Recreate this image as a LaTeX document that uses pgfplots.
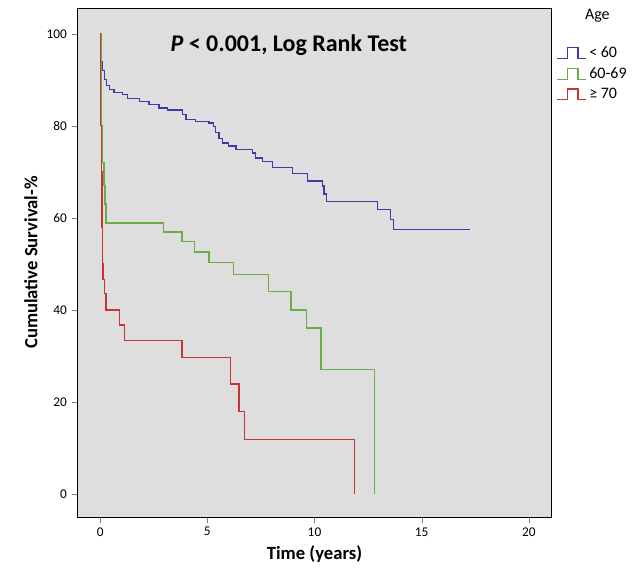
\documentclass[border=0pt]{standalone}
\usepackage{pgfplots}
\pgfplotsset{compat=1.18}
\usepackage{fontspec}
\setmainfont{Carlito}
\definecolor{ageblue}{HTML}{3A3AA8}
\definecolor{agegreen}{HTML}{6AAE4A}
\definecolor{agered}{HTML}{C83434}
\pgfplotsset{stepimg/.style={legend image code/.code={\draw[color=#1,line width=1pt] (0pt,-4pt) -- (8pt,-4pt) -- (8pt,4pt) -- (16pt,4pt) -- (16pt,-4pt) -- (22pt,-4pt);}}}
\begin{document}
\begin{tikzpicture}
\path[use as bounding box] (-58pt,-50pt) rectangle (417pt,388pt);
\begin{axis}[
  scale only axis, width=356pt, height=382pt,
  xmin=-1.07, xmax=21.07, ymin=-5, ymax=105.6,
  xtick={0,5,...,20}, ytick={0,20,...,100},
  axis background/.style={fill={rgb,255:red,222;green,222;blue,222}},
  tick align=outside, tick pos=left,
  /pgf/number format/assume math mode=true,
  ticklabel style={font=\fontsize{10}{12}\selectfont},
  xlabel={\textbf{Time (years)}}, ylabel={\textbf{Cumulative Survival-\%}},
  label style={font=\fontsize{14}{16}\selectfont},
  legend style={at={(1.0,0.935)}, anchor=north west, draw=none, fill=none, font=\fontsize{12}{14}\selectfont, row sep=2pt},
  legend cell align=left,
  clip=false,
]
\addplot[ageblue, const plot, line width=1pt, stepimg=ageblue] coordinates {(0,100)(0.02,97)(0.05,94)(0.1,92)(0.2,90)(0.3,88.8)(0.42,87.9)(0.65,87.3)(1.04,86.8)(1.27,85.9)(1.82,85.3)(2.28,84.6)(2.75,83.9)(3.14,83.4)(3.84,82.4)(4.0,81.4)(4.46,81.0)(5.08,80.6)(5.3,79.8)(5.39,78.5)(5.55,77.3)(5.7,76.3)(6.0,75.6)(6.33,74.8)(7.1,74.1)(7.26,73.0)(7.57,72.3)(8.03,70.9)(8.97,69.6)(9.67,68.0)(10.36,66.9)(10.45,65.2)(10.55,63.6)(12.93,61.8)(13.55,59.7)(13.7,57.5)(17.25,57.5)};
\addlegendentry{< 60}
\addplot[agegreen, const plot, line width=1pt, stepimg=agegreen] coordinates {(0,100)(0.03,88)(0.07,80)(0.12,72)(0.18,67)(0.22,63)(0.27,58.9)(2.94,56.9)(3.82,54.8)(4.4,52.6)(5.07,50.3)(6.23,47.7)(7.85,44.0)(8.9,40.0)(9.64,36.1)(10.3,27.1)(12.8,0)};
\addlegendentry{60-69}
\addplot[agered, const plot, line width=1pt, stepimg=agered] coordinates {(0,100)(0.02,80)(0.05,70)(0.08,58)(0.1,50)(0.13,46.6)(0.2,43.5)(0.27,40.0)(0.9,36.7)(1.13,33.4)(3.81,29.7)(6.08,23.9)(6.48,17.9)(6.73,11.9)(11.87,0)};
\addlegendentry{≥ 70}
\node[font=\bfseries\fontsize{18}{20}\selectfont] at (axis cs:8.8,97.5) {\textit{P} < 0.001, Log Rank Test};
\node[font=\fontsize{12}{14}\selectfont] at (axis cs:23.2,104) {Age};
\end{axis}
\end{tikzpicture}
\end{document}
